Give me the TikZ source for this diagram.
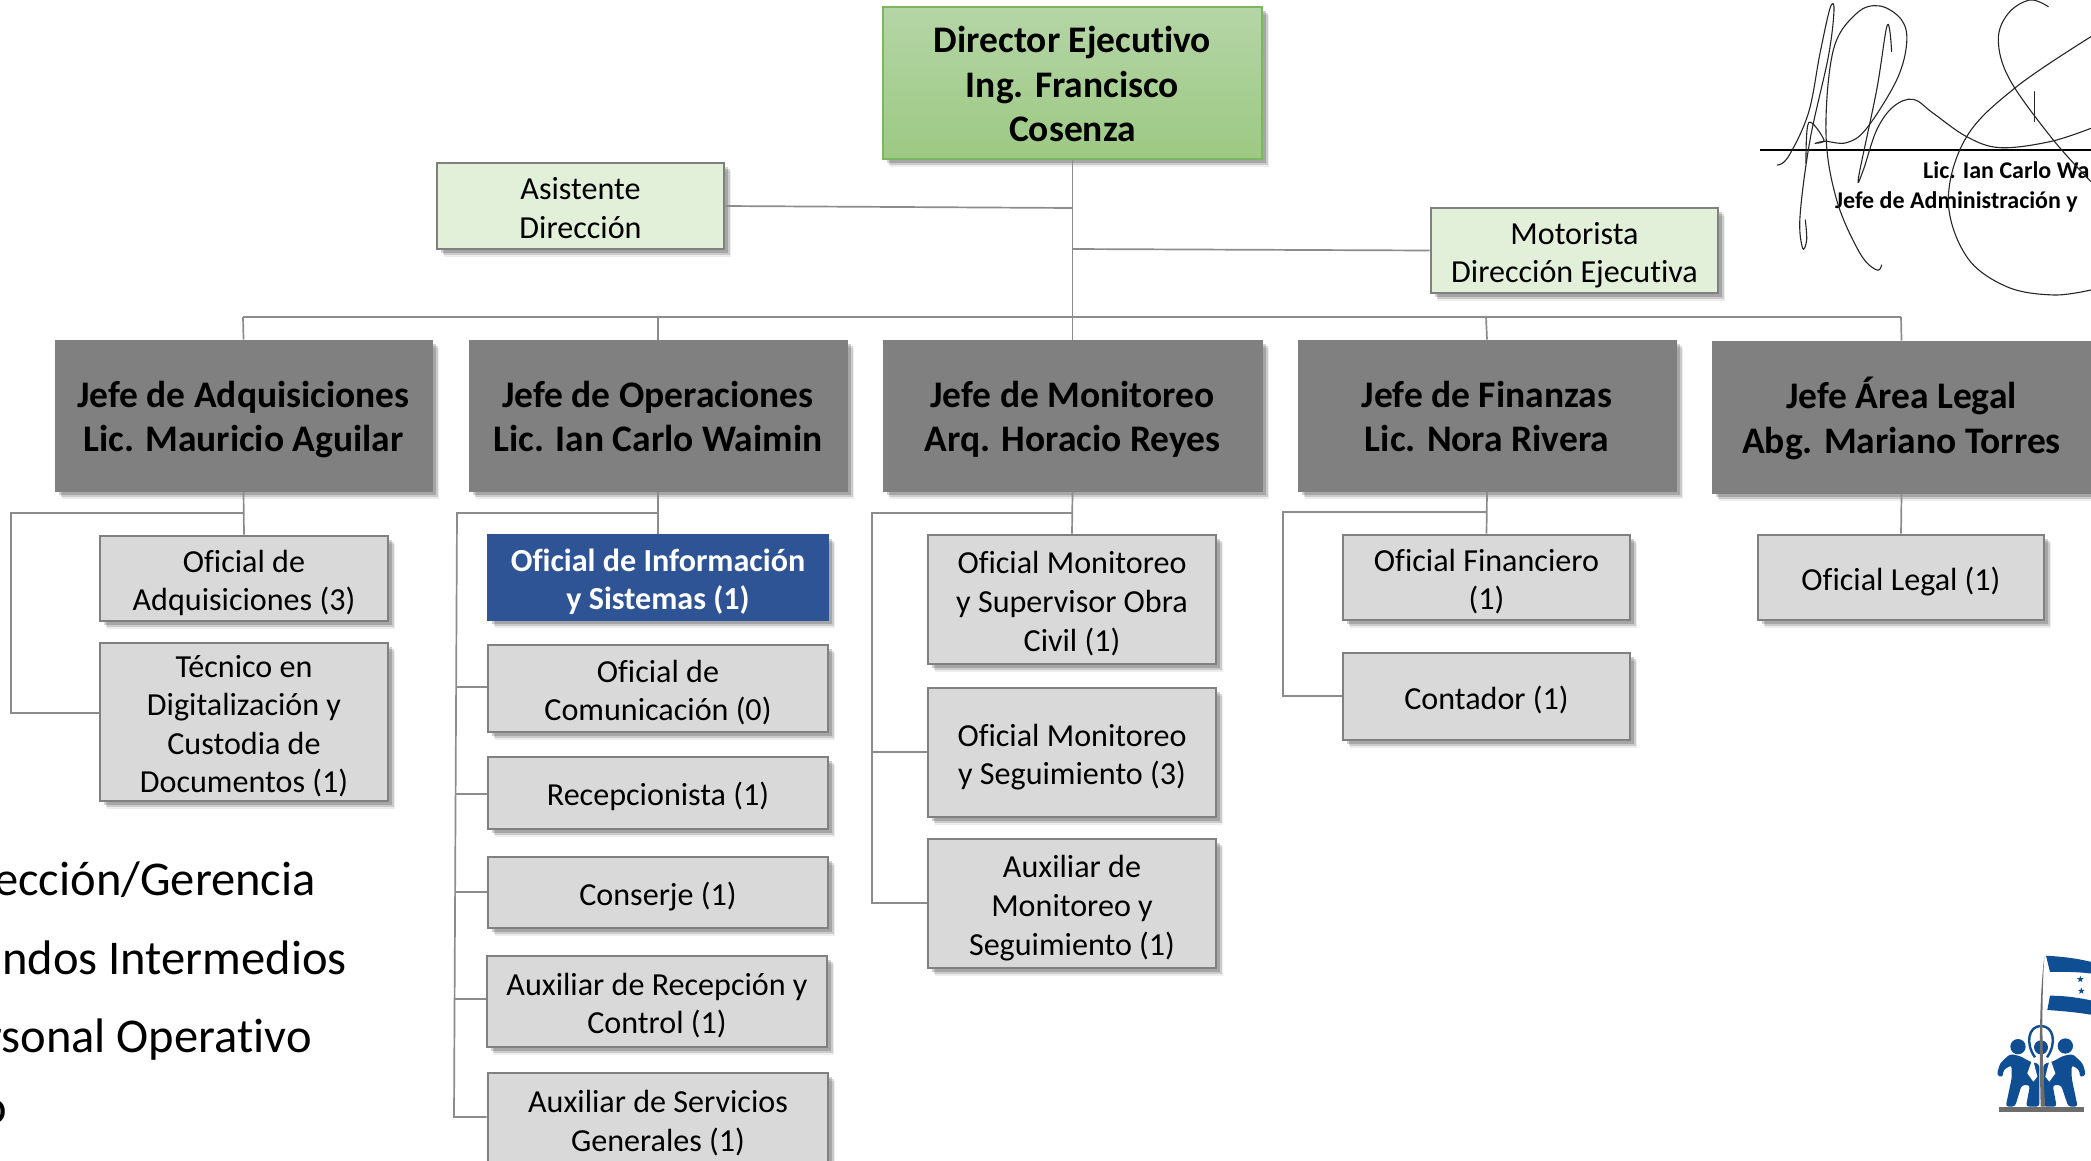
\documentclass[tikz,border=0pt]{standalone}
\usepackage{fontspec}
\setmainfont[Ligatures=NoCommon]{Carlito}
\usetikzlibrary{shadows,shapes.geometric}
\definecolor{linegray}{HTML}{8C8C8C}
\definecolor{boxgray}{HTML}{D9D9D9}
\definecolor{edgegray}{HTML}{808080}
\definecolor{lightgreen}{HTML}{E2EFD9}
\definecolor{deepblue}{HTML}{2F5496}
\definecolor{logoblue}{HTML}{104E93}
\definecolor{dirtop}{HTML}{B5D5A6}
\definecolor{dirbot}{HTML}{9CC983}
\definecolor{diredge}{HTML}{7DB560}
\tikzset{
  softshadow/.style={
    general shadow={fill=black,opacity=.07,shadow xshift=7pt,shadow yshift=-8pt},
    general shadow={fill=black,opacity=.14,shadow xshift=5.5pt,shadow yshift=-6pt},
    general shadow={fill=black,opacity=.18,shadow xshift=3.5pt,shadow yshift=-4pt}},
  basebox/.style={rectangle,inner sep=0pt,align=center,softshadow},
  staff/.style={basebox,draw=edgegray,line width=2.6pt,fill=boxgray,text=black,font=\fontsize{32.1}{38.6}\selectfont},
  helper/.style={staff,fill=lightgreen},
  info/.style={basebox,draw=deepblue,line width=1.5pt,fill=deepblue,text=white,font=\fontsize{32.1}{38.6}\bfseries\selectfont},
  chief/.style={basebox,draw=edgegray,line width=1pt,fill=edgegray,text=black,font=\fontsize{37.5}{44.7}\bfseries\selectfont},
  director/.style={basebox,draw=diredge,line width=1.5pt,top color=dirtop,bottom color=dirbot,text=black,font=\fontsize{37.5}{44.7}\bfseries\selectfont},
  conn/.style={draw=linegray,line width=1.7pt},
  legendtext/.style={inner sep=0pt,anchor=base east,font=\fontsize{48.5}{58}\selectfont},
  signtext/.style={inner sep=0pt,anchor=base west,font=\fontsize{24}{30}\bfseries\selectfont},
  sig/.style={draw=black!85,line width=1.1pt,line cap=round,line join=round},
  logobody/.style={fill=logoblue,draw=none,rounded corners=3pt}
}
\newcommand{\bx}[7]{%
  \pgfmathsetmacro{\bw}{#5-#3}\pgfmathsetmacro{\bh}{#6-#4}%
  \node[#2,minimum width=\bw pt,minimum height=\bh pt] (#1) at ({(#3+#5)/2},{(#4+#6)/2}) {\raisebox{-5.2pt}[\height][\depth]{\begin{tabular}{@{}c@{}}#7\end{tabular}}};}
\begin{document}
\begin{tikzpicture}[x=1pt,y=-1pt]
\useasboundingbox (0,0) rectangle (2091,1160);
\fill[white] (0,0) rectangle (2091,1160);
\clip (0,0) rectangle (2091,1160);

% junction coordinates
\coordinate (asJ) at (1072,208);
\coordinate (moJ) at (1072,249);
\coordinate (busL) at (243,317);
\coordinate (busO) at (658,317);
\coordinate (busM) at (1072,317);
\coordinate (busF) at (1486,317);
\coordinate (busR) at (1901,317);
\coordinate (adqT) at (243,513);
\coordinate (adqL) at (11,513);
\coordinate (adqB) at (11,713);
\coordinate (opsT) at (658,513);
\coordinate (opsL) at (457,513);
\coordinate (opsB) at (454,1117);
\coordinate (ops1) at (456,687);
\coordinate (ops2) at (456,794);
\coordinate (ops3) at (455,892);
\coordinate (ops4) at (455,999);
\coordinate (monT) at (1072,513);
\coordinate (monL) at (872,513);
\coordinate (monM) at (872,752);
\coordinate (monB) at (872,903);
\coordinate (finT) at (1486,512);
\coordinate (finL) at (1283,512);
\coordinate (finB) at (1283,696);

% boxes are placed first so connectors can name them
\bx{dir}{director}{883}{7}{1262}{159}{Director Ejecutivo\\Ing. Francisco\\Cosenza}
\bx{asis}{helper}{437}{163}{724}{249}{Asistente\\Dirección}
\bx{moto}{helper}{1431}{208}{1718}{293}{Motorista\\Dirección Ejecutiva}
\bx{jadq}{chief}{55}{340}{432}{491}{Jefe de Adquisiciones\\Lic. Mauricio Aguilar}
\bx{jope}{chief}{469}{340}{847}{491}{Jefe de Operaciones\\Lic. Ian Carlo Waimin}
\bx{jmon}{chief}{883}{340}{1262}{491}{Jefe de Monitoreo\\Arq. Horacio Reyes}
\bx{jfin}{chief}{1298}{340}{1676}{491}{Jefe de Finanzas\\Lic. Nora Rivera}
\bx{jleg}{chief}{1712}{341}{2091}{493}{Jefe Área Legal\\Abg. Mariano Torres}
\bx{adq1}{staff}{100}{536}{388}{621}{Oficial de\\Adquisiciones (3)}
\bx{adq2}{staff}{100}{643}{388}{801}{Técnico en\\Digitalización y\\Custodia de\\Documentos (1)}
\bx{ope1}{info}{488}{535}{828}{620}{Oficial de Información\\y Sistemas (1)}
\bx{ope2}{staff}{488}{645}{828}{732}{Oficial de\\Comunicación (0)}
\bx{ope3}{staff}{488}{757}{828}{829}{Recepcionista (1)}
\bx{ope4}{staff}{488}{857}{828}{928}{Conserje (1)}
\bx{ope5}{staff}{487}{956}{827}{1047}{Auxiliar de Recepción y\\Control (1)}
\bx{ope6}{staff}{488}{1073}{828}{1165}{Auxiliar de Servicios\\Generales (1)}
\bx{mon1}{staff}{928}{535}{1216}{664}{Oficial Monitoreo\\y Supervisor Obra\\Civil (1)}
\bx{mon2}{staff}{928}{688}{1216}{817}{Oficial Monitoreo\\y Seguimiento (3)}
\bx{mon3}{staff}{928}{839}{1216}{968}{Auxiliar de\\Monitoreo y\\Seguimiento (1)}
\bx{fin1}{staff}{1343}{535}{1630}{620}{Oficial Financiero\\(1)}
\bx{fin2}{staff}{1343}{653}{1630}{740}{Contador (1)}
\bx{leg1}{staff}{1758}{535}{2044}{620}{Oficial Legal (1)}

% connectors
\draw[conn] (dir.south) -- (jmon.north);
\draw[conn] (asis.east) -- (asJ);
\draw[conn] (moto.west) -- (moJ);
\draw[conn] (busL) -- (busR);
\draw[conn] (busL) -- (jadq.north);
\draw[conn] (busO) -- (jope.north);
\draw[conn] (busF) -- (jfin.north);
\draw[conn] (busR) -- (jleg.north);
\draw[conn] (jadq.south) -- (adq1.north);
\draw[conn] (adqT) -- (adqL) -- (adqB) -- (adqB -| adq2.west);
\draw[conn] (jope.south) -- (ope1.north);
\draw[conn] (opsT) -- (opsL) -- (opsB) -- (opsB -| ope6.west);
\draw[conn] (ops1) -- (ops1 -| ope2.west);
\draw[conn] (ops2) -- (ops2 -| ope3.west);
\draw[conn] (ops3) -- (ops3 -| ope4.west);
\draw[conn] (ops4) -- (ops4 -| ope5.west);
\draw[conn] (jmon.south) -- (mon1.north);
\draw[conn] (monT) -- (monL) -- (monB) -- (monB -| mon3.west);
\draw[conn] (monM) -- (monM -| mon2.west);
\draw[conn] (jfin.south) -- (fin1.north);
\draw[conn] (finT) -- (finL) -- (finB) -- (finB -| fin2.west);
\draw[conn] (jleg.south) -- (leg1.north);

% legend, cut by the left edge
\node[legendtext] (lg1) at (316,895) {ección/Gerencia};
\node[legendtext] (lg2) at (347,974) {ndos Intermedios};
\node[legendtext] (lg3) at (312,1052) {rsonal Operativo};
\node[legendtext] (lg4) at (7,1123) {o};

% signature block
\draw[draw=black,line width=1.2pt] (1760,150) -- (2091,150);
\node[signtext] (sg1) at (1923,178) {Lic. Ian Carlo Wa};
\node[signtext] (sg2) at (1835,208) {Jefe de Administración y};
\begin{scope}[shift={(1700,0)},x=0.3333pt,y=-0.3333pt]
\draw[sig] plot[smooth,tension=.6] coordinates {(232,495) (265,470) (325,340) (360,160) (390,25) (402,30) (385,170) (330,420) (300,650) (308,745) (320,720) (316,660)};
\draw[sig] plot[smooth,tension=.6] coordinates {(545,795) (530,810) (480,760) (410,600) (378,400) (400,150) (470,40) (540,18) (605,60) (620,130) (590,240) (500,385) (440,428) (375,424) (345,430) (372,420) (326,368) (318,490)};
\draw[sig] plot[smooth,tension=.6] coordinates {(575,155) (562,75) (530,270) (476,530) (490,510) (530,390) (580,320) (640,298) (700,340) (800,410) (900,443) (1050,425) (1173,385)};
\draw[sig] plot[smooth,tension=.6] coordinates {(1045,20) (990,0) (925,40) (895,120) (930,240) (1060,420) (1173,545)};
\draw[sig] plot[smooth,tension=.6] coordinates {(1173,110) (950,260) (800,410) (745,600) (800,770) (920,860) (1060,885) (1173,870)};
\draw[sig] (1003,275) -- (1003,365);
\end{scope}

% logo
\begin{scope}[shift={(1950,930)},x=0.3333pt,y=-0.3333pt]
\fill[logoblue] (288,77) .. controls (340,80) and (390,86) .. (440,100) -- (440,133) .. controls (390,125) and (345,125) .. (300,126) -- cycle;
\fill[logoblue] (300,197) .. controls (345,197) and (390,203) .. (440,215) -- (440,257) .. controls (390,248) and (340,243) .. (292,240) -- cycle;
\node[star,star points=5,star point ratio=2.4,fill=logoblue,inner sep=0pt,minimum size=7pt] (st1) at (391,148) {};
\node[star,star points=5,star point ratio=2.4,fill=logoblue,inner sep=0pt,minimum size=7pt] (st2) at (394,183) {};
\fill[logoblue] (204,350) circle (23);
\fill[logoblue] (346,348) circle (23);
\fill[logoblue] (273,352) circle (21);
\draw[logoblue,line width=2.4pt] (255,382) .. controls (225,340) and (235,288) .. (273,288) .. controls (311,288) and (321,340) .. (291,382);
\fill[logobody] (140,435) -- (150,400) -- (180,372) -- (210,378) -- (240,395) -- (268,402) -- (268,530) -- (228,530) -- (240,465) -- (215,465) -- (195,530) -- (167,530) -- (185,445) -- (185,405) -- (160,420) -- (158,443) -- cycle;
\fill[logobody] (408,435) -- (398,400) -- (368,372) -- (338,378) -- (308,395) -- (280,402) -- (280,530) -- (320,530) -- (308,465) -- (333,465) -- (355,530) -- (383,530) -- (365,445) -- (365,405) -- (388,420) -- (390,443) -- cycle;
\fill[white] (248,385) -- (232,430) -- (250,455) -- (262,440) -- cycle;
\fill[white] (300,385) -- (316,430) -- (298,455) -- (286,440) -- cycle;
\fill[edgegray!85!black] (283,78) .. controls (272,170) and (266,300) .. (272,530) -- (286,530) .. controls (276,400) and (274,220) .. (283,78) -- cycle;
\fill[edgegray!85!black] (146,530) rectangle (403,547);
\end{scope}
\end{tikzpicture}
\end{document}
